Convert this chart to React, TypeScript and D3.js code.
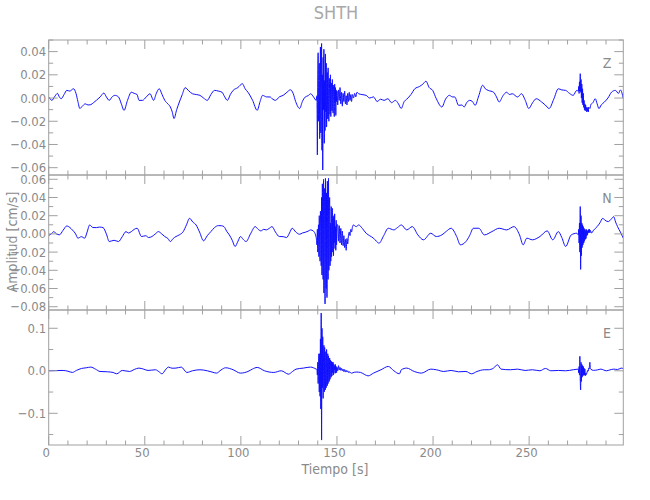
import React from 'react';
import * as d3 from 'd3';

const TITLE = 'SHTH';
const X_LABEL = 'Tiempo [s]';
const Y_LABEL = 'Amplitud [cm/s]';
const X_DOMAIN: [number, number] = [0, 299];
const X_MAJOR_TICKS = [0, 50, 100, 150, 200, 250];
const X_MINOR_STEP = 10;
const COMPONENTS = ['Z', 'N', 'E'];

const Z_DOMAIN: [number, number] = [-0.0663, 0.05];
const N_DOMAIN: [number, number] = [-0.0836, 0.0647];
const E_DOMAIN: [number, number] = [-0.1746, 0.143];
const Z_TICKS = [0.04, 0.02, 0, -0.02, -0.04, -0.06];
const N_TICKS = [0.06, 0.04, 0.02, 0, -0.02, -0.04, -0.06, -0.08];
const E_TICKS = [0.1, 0, -0.1];
const Z_MINOR = 0.01;
const N_MINOR = 0.01;
const E_MINOR = 0.05;
const Z_DECIMALS = 2;
const N_DECIMALS = 2;
const E_DECIMALS = 1;

const BURST_DT = 0.2;
const BURST1_START = 139.6;
const BURST2_START = 275.6;

const Z_BASE: [number, number][] = [
  [0, 0.001], [1.7, -0.002], [3, 0.001], [4.6, 0.004], [5.5, 0.001], [6.5, -0.0006], [8, 0.003], [9.4, 0.0066], [11, 0.006], [12.9, 0.008], [14.2, 0.004], [15.2, -0.003], [16.2, -0.009], [17.5, -0.007], [19, -0.005], [20.5, -0.006], [21.9, -0.0057], [23.3, -0.004], [24.8, -0.002], [26.8, 0.001], [28.7, 0.0043], [30, 0.001], [31.5, -0.002], [33, 0.001], [34.4, 0.0023], [36.3, 0.001], [37.8, -0.005], [39.2, -0.0106], [41, -0.002], [43, 0.005], [44.5, 0.004], [46, 0.003], [47, -0.002], [48.8, -0.002], [50.8, 0.001], [52.7, 0.0037], [54.6, -0.002], [56, 0.004], [57.5, 0.008], [59, 0.003], [60.4, -0.002], [62, -0.005], [63.3, -0.0077], [64.3, -0.012], [65.2, -0.0177], [66.6, -0.01], [68, -0.0034], [69.5, 0.003], [71, 0.0089], [73, 0.006], [74.8, 0.0037], [76.8, 0.003], [78.7, 0.0023], [80.6, 0], [82.5, -0.002], [84.4, 0.003], [86.3, 0.0066], [88.3, 0.006], [90.2, 0.005], [91.6, 0.001], [93, -0.002], [94.5, 0.003], [96, 0.0066], [98.4, 0.009], [100.8, 0.0123], [102.2, 0.008], [103.7, 0.005], [106.1, -0.002], [108.5, -0.0106], [110, -0.003], [111.3, 0.0023], [113.3, 0.001], [115.2, 0.0009], [116.6, -0.001], [118, -0.002], [120, 0.001], [122, 0.0023], [124, 0.005], [125.8, 0.0071], [127.2, 0.004], [128.5, -0.003], [130.6, -0.009], [132, -0.003], [133.5, 0.0009], [135, 0.002], [136.3, 0.0037], [137.8, 0.001], [139.2, -0.002],
  [150.4, -0.006], [150.8, 0.007], [151.2, -0.002], [151.6, 0.009], [152, -0.005], [152.4, 0.005], [152.8, -0.007], [153.2, 0.004], [153.6, -0.003], [154, 0.006], [154.4, -0.005], [154.8, 0.002], [155.2, -0.006], [155.6, 0.004], [156, -0.003], [156.4, 0.005], [156.8, -0.002], [157.2, 0.003], [157.6, -0.003], [158, 0.003], [158.6, 0], [159.2, 0.004], [159.8, 0.001], [160.4, 0.005],
  [161.3, 0.0037], [163, 0.003], [165.2, 0.0023], [167, 0], [169, 0.001], [170.9, -0.003], [172.7, -0.001], [174.5, -0.002], [176.5, -0.0006], [178.4, -0.004], [180.4, -0.002], [182, -0.005], [183.4, -0.009], [185, -0.003], [186.3, -0.001], [188.5, 0.003], [190.5, 0.008], [193, 0.01], [194.7, 0.012], [196.3, 0.0145], [198, 0.009], [199.8, 0.0066], [201.7, -0.0006], [204.6, -0.0077], [206.5, -0.001], [208.5, 0.0023], [210, 0.001], [211.3, 0.0009], [213.3, -0.0063], [215, -0.006], [216.2, -0.0077], [217.5, -0.004], [219, -0.002], [220.5, -0.003], [221.9, -0.0063], [223.8, 0.002], [225.8, 0.011], [227.2, 0.008], [228.7, 0.0066], [231.5, 0.005], [233, 0.001], [234.4, -0.0034], [236.4, 0.002], [238.3, 0.005], [239.8, 0.003], [241.2, 0.0037], [244, 0.0009], [246, 0.0037], [248, -0.002], [249.8, -0.009], [251.8, -0.004], [253.7, -0.0006], [256.5, -0.0034], [258.4, -0.006], [260.4, -0.009], [262.8, -0.001], [265.2, 0.008], [267, 0.007], [269, 0.0066], [271, 0.004], [272.9, 0.0023], [274.8, 0.0066],
  [281.6, -0.009], [282.1, -0.0057], [283.2, -0.004], [284.4, -0.0006], [285.4, -0.005], [286.3, -0.0091], [287.5, -0.006], [289.2, -0.0034], [291, 0], [292.9, 0.0051], [294.9, 0.0066], [296.5, 0.004], [297.5, 0.007], [299, -0.0006],
];
const Z_BURST1 = [0.002, -0.049, 0.012, 0.039, -0.02, 0.008, 0.03, -0.035, -0.01, 0.044, -0.03, 0.005, 0.047, -0.045, 0.02, -0.062, 0.035, -0.01, 0.042, -0.039, 0.015, -0.028, 0.038, -0.012, 0.03, -0.025, 0.008, 0.022, -0.018, 0.026, -0.009, -0.02, 0.017, 0.004, -0.014, 0.02, -0.016, 0.006, 0.013, -0.011, 0.016, -0.006, -0.013, 0.011, 0.003, -0.016, 0.012, -0.004, 0.009, -0.015, 0.007, -0.003, 0.006];
const Z_BURST2 = [0.006, 0.01, 0.004, 0.014, 0.006, 0.021, 0.005, 0.016, 0, 0.012, -0.004, 0.008, -0.006, 0.004, -0.008, -0.002, -0.01, -0.005, -0.011, -0.006, -0.01, -0.008, -0.012, -0.009, -0.011, -0.008, -0.012, -0.008];

const N_BASE: [number, number][] = [
  [0, -0.0018], [1.3, 0], [2.7, 0.0025], [4, 0], [5.6, -0.001], [7.5, 0.004], [9.4, 0.0087], [11, 0.007], [12.3, 0.0044], [14, 0], [15.2, -0.0047], [17, -0.003], [18.7, -0.0047], [20, 0.002], [21.3, 0.0098], [23, 0.007], [24.8, 0.0069], [26.5, 0.0075], [28.3, 0.0069], [30, 0], [31.5, -0.0084], [34, -0.007], [36.3, -0.0084], [38.3, -0.003], [40.2, 0.0025], [41.5, 0.001], [43, 0.0025], [44.5, 0.005], [46, 0.0062], [48.3, -0.0029], [50.5, -0.002], [52, -0.004], [53.7, -0.0029], [55.5, 0], [57.1, 0.0025], [58.8, 0], [60.4, -0.0029], [62, -0.005], [63.3, -0.0084], [64.8, -0.005], [66.2, -0.0029], [68, -0.001], [70, 0.0025], [71.7, 0.01], [73.3, 0.0171], [75, 0.013], [76.7, 0.0098], [78.5, 0.002], [80.6, -0.0076], [82.5, -0.002], [84.4, 0.0025], [86.3, 0.007], [88.3, 0.0091], [89.8, 0.009], [91.2, 0.008], [92.6, 0.003], [94, -0.0011], [95.5, -0.007], [97, -0.0138], [98.5, -0.008], [99.8, -0.0029], [101.2, -0.006], [102.7, -0.0084], [105, 0], [107.5, 0.008], [109, 0.005], [110.4, 0.0033], [111.9, 0.005], [113.3, 0.0044], [114.7, 0.006], [116.2, 0.008], [118, 0.002], [120, -0.0029], [122, -0.003], [123.8, -0.004], [125.3, 0.001], [126.7, 0.0062], [128.6, 0.002], [130.6, -0.0004], [132, 0.001], [133.5, 0.0018], [135, 0.003], [136.3, 0.0044], [137.8, 0.003], [139.2, -0.004],
  [150.4, 0.01], [150.8, -0.008], [151.2, 0.009], [151.6, -0.01], [152, 0.006], [152.4, -0.012], [152.8, 0.003], [153.2, -0.013], [153.6, -0.002], [154, -0.015], [154.4, -0.006], [154.8, -0.018], [155.2, -0.005], [155.6, -0.011], [156, -0.001], [156.4, 0.002], [156.8, -0.002], [157.2, 0.005], [157.6, 0.002], [158, 0.007],
  [158.5, 0.0098], [160, 0.008], [161.3, 0.0098], [163.2, 0.006], [165.2, 0.0007], [167, -0.002], [169, -0.0047], [170.5, -0.008], [171.9, -0.0102], [174.3, -0.002], [176.7, 0.0062], [179.6, 0.0044], [181.5, 0.007], [183.5, 0.0098], [186.3, 0.0044], [189.2, 0.008], [192.1, -0.0011], [195, -0.0065], [198.8, 0.0007], [201.7, -0.0029], [204.6, -0.0011], [207, 0.003], [209.4, 0.0062], [212.3, -0.0029], [214.2, -0.012], [217.1, -0.0084], [219, -0.002], [221, 0.0062], [223.8, 0.0062], [226.7, -0.0011], [230.6, 0.0025], [234.4, 0.0062], [238.3, 0.0044], [242.1, 0.008], [245, -0.0011], [246.9, -0.012], [248.8, -0.0047], [251.7, -0.0065], [255.6, -0.0029], [259.4, 0.0033], [262.3, -0.0065], [265.2, 0.0025], [267, -0.004], [269, -0.0138], [271.9, -0.0011], [274.8, 0.0007],
  [282.5, 0.001], [283.5, 0.004], [285.4, 0.008], [286.8, 0.012], [288.3, 0.0171], [289.5, 0.015], [291.2, 0.0135], [292.6, 0.016], [294, 0.0189], [295, 0.013], [296, 0.008], [297.5, 0.002], [299, -0.0047],
];
const N_BURST1 = [-0.012, 0.005, -0.02, -0.004, 0.01, -0.025, 0.02, -0.008, -0.03, 0.025, 0.006, -0.035, 0.04, -0.045, 0.055, -0.02, -0.05, 0.06, -0.065, 0.012, 0.05, -0.077, 0.061, -0.03, -0.06, 0.045, -0.07, 0.058, -0.02, -0.05, 0.061, -0.04, 0.02, 0.04, -0.035, 0.012, -0.03, 0.03, -0.025, 0.005, 0.028, -0.02, 0.018, -0.024, 0.02, -0.01, 0.022, -0.016, 0.008, -0.018, 0.015, -0.012, 0.01];
const N_BURST2 = [-0.001, 0.005, -0.01, 0.012, -0.02, 0.03, -0.039, 0.02, -0.024, 0.012, -0.015, 0.01, -0.012, 0.008, -0.01, 0.006, -0.008, 0.005, -0.006, 0.004, -0.005, 0.005, -0.002, 0.003, -0.001, 0.004, 0.001, 0.005, 0.002, 0.005, 0.001, 0.004];

const E_BASE: [number, number][] = [
  [0, 0], [3.5, 0.0005], [7.5, 0.0008], [10, -0.001], [12.3, -0.0039], [14.5, 0.001], [17.1, 0.0055], [19.5, 0.007], [21.9, 0.0087], [24.3, 0.004], [26.7, -0.0016], [30.6, -0.0024], [33.5, -0.0039], [35.4, -0.0071], [38.3, 0.0008], [42.1, -0.0016], [44.5, 0.003], [46.9, 0.0063], [49.3, 0.004], [51.7, 0.0008], [55.6, 0.0024], [57.3, -0.002], [59, -0.0071], [60.7, 0.002], [62.3, 0.0087], [64.2, 0.006], [66.2, 0.0063], [69, 0.0087], [71.9, -0.0039], [74.8, 0], [78.7, 0.0024], [82.5, 0], [85, -0.003], [87.3, -0.0055], [89.7, 0.002], [92.1, 0.0071], [96, 0.0024], [99.8, -0.0055], [103.7, -0.0016], [106, 0.004], [108.5, 0.0079], [112.3, 0], [117.1, -0.0039], [121, 0], [124.8, -0.0079], [126.8, -0.002], [128.7, 0.0039], [132.5, 0.0063], [136.3, 0.0087], [139.2, 0.0039],
  [150.4, 0], [150.8, 0.012], [151.2, 0.002], [151.6, 0.008], [152, 0.001], [152.4, 0.006], [152.8, 0], [153.2, 0.004], [153.6, -0.002], [154, 0.003], [154.4, -0.003], [154.8, 0.001], [155.2, -0.003], [155.6, 0], [156, -0.004], [156.4, -0.002], [156.8, -0.005], [157.2, -0.004], [157.6, -0.006], [158, -0.005],
  [160, -0.003], [162.3, -0.0039], [164.5, -0.009], [166.2, -0.012], [169, -0.0055], [172.9, 0.0024], [176.7, 0.0102], [179.6, 0], [182.5, -0.0071], [183.5, 0.0024], [186.3, 0.0063], [190.2, -0.0016], [194, -0.0055], [198.8, 0.0039], [201.7, 0.0024], [205.6, -0.0016], [209.4, 0.0008], [213.3, -0.0024], [217.1, -0.0016], [220, -0.0071], [222.9, -0.0016], [226.7, 0.0024], [228.7, 0.0024], [231.5, 0.0063], [233.5, 0.0142], [235.4, 0.0039], [240.2, 0.0024], [244, 0.0039], [247.9, 0.0008], [251.7, 0.0024], [255.6, 0], [258.5, 0.0055], [261.3, 0], [265.2, 0.0008], [269, 0], [272.9, 0.0024], [275.4, 0.0039],
  [283.5, 0.001], [285.5, 0.002], [287.3, 0.0039], [290.2, 0], [292, 0.002], [294, 0.0039], [296, 0.003], [297.9, 0.0063], [299, 0.005],
];
const E_BURST1 = [0.003, -0.01, 0.02, -0.03, 0.01, 0.04, -0.05, 0.04, -0.06, 0.075, -0.09, 0.136, -0.163, 0.1, -0.04, 0.08, -0.065, 0.02, 0.06, -0.05, 0.055, -0.02, -0.045, 0.045, -0.04, 0.05, 0.005, -0.035, 0.04, -0.03, 0.035, -0.01, -0.025, 0.03, -0.02, 0.025, 0.004, -0.015, 0.022, -0.012, 0.02, -0.004, 0.02, -0.01, 0.015, 0.002, 0.012, -0.006, 0.015, -0.005, 0.01, -0.004, 0.008];
const E_BURST2 = [0.004, -0.005, 0.01, -0.01, 0.034, -0.02, -0.045, 0.02, -0.025, 0.015, -0.015, 0.012, -0.012, 0.01, -0.01, 0.006, -0.01, 0.004, -0.012, -0.006, -0.01, -0.005, -0.006, -0.002, -0.003, 0.002, 0, 0.006, 0.004, 0.012, 0.02, 0.008, 0.004];

function buildTrace(base: [number, number][], b1: number[], b2: number[]) {
  const pts: [number, number][] = base.slice();
  b1.forEach((v, i) => pts.push([BURST1_START + i * BURST_DT, v]));
  b2.forEach((v, i) => pts.push([BURST2_START + i * BURST_DT, v]));
  pts.sort((a, b) => a[0] - b[0]);
  return pts;
}

const AXIS = '#a0a0a0';
const TEXT = '#8a8a8a';
const TRACE = '#1010ff';
const FONT = "'Liberation Sans Narrow', 'DejaVu Sans Condensed', 'Liberation Sans', sans-serif";

export default function App() {
  const W = 650;
  const H = 500;
  const left = 48.7;
  const right = 623.3;
  const tops = [40, 175, 310];
  const ph = 135;
  const x = d3.scaleLinear().domain(X_DOMAIN).range([left, right]);

  const panels = [
    { name: COMPONENTS[0], domain: Z_DOMAIN, ticks: Z_TICKS, minor: Z_MINOR, dec: Z_DECIMALS, data: buildTrace(Z_BASE, Z_BURST1, Z_BURST2) },
    { name: COMPONENTS[1], domain: N_DOMAIN, ticks: N_TICKS, minor: N_MINOR, dec: N_DECIMALS, data: buildTrace(N_BASE, N_BURST1, N_BURST2) },
    { name: COMPONENTS[2], domain: E_DOMAIN, ticks: E_TICKS, minor: E_MINOR, dec: E_DECIMALS, data: buildTrace(E_BASE, E_BURST1, E_BURST2) },
  ];

  const xMinor = d3.range(X_DOMAIN[0], X_DOMAIN[1], X_MINOR_STEP).filter((t) => X_MAJOR_TICKS.indexOf(t) < 0);

  return (
    <svg width={W} height={H} style={{ position: 'absolute', left: 0, top: 0, background: '#fff' }} fontFamily={FONT}>
      <rect x={0} y={0} width={W} height={H} fill="#fff" />
      <text x={336} y={12} textAnchor="middle" dominantBaseline="central" fontSize={18} fill="#a8a8a8">{TITLE}</text>
      {panels.map((p, i) => {
        const top = tops[i];
        const bottom = top + ph;
        const y = d3.scaleLinear().domain(p.domain).range([bottom, top]);
        const line = d3.line<[number, number]>().x((d) => x(d[0])).y((d) => y(d[1])).curve(d3.curveMonotoneX);
        const lo = Math.ceil(p.domain[0] / p.minor - 1e-6);
        const hi = Math.floor(p.domain[1] / p.minor + 1e-6);
        const minorTicks = d3.range(lo, hi + 1).map((k) => k * p.minor).filter((v) => !p.ticks.some((t) => Math.abs(t - v) < 1e-9));
        const fmt = (v: number) => v.toFixed(p.dec).replace('-', '\u2212');
        const clipId = `clip-${p.name}`;
        return (
          <g key={p.name}>
            <defs>
              <clipPath id={clipId}>
                <rect x={left} y={top} width={right - left} height={ph} />
              </clipPath>
            </defs>
            <path d={line(p.data) || ''} fill="none" stroke={TRACE} strokeWidth={1} strokeLinejoin="round" clipPath={`url(#${clipId})`} />
            <rect x={left} y={top} width={right - left} height={ph} fill="none" stroke={AXIS} strokeWidth={1} />
            {X_MAJOR_TICKS.map((t) => (
              <g key={`xm${t}`}>
                <line x1={x(t)} x2={x(t)} y1={bottom} y2={bottom - 9} stroke={AXIS} />
                <line x1={x(t)} x2={x(t)} y1={top} y2={top + 9} stroke={AXIS} />
              </g>
            ))}
            {xMinor.map((t) => (
              <g key={`xn${t}`}>
                <line x1={x(t)} x2={x(t)} y1={bottom} y2={bottom - 4.5} stroke={AXIS} />
                <line x1={x(t)} x2={x(t)} y1={top} y2={top + 4.5} stroke={AXIS} />
              </g>
            ))}
            {p.ticks.map((t) => (
              <g key={`ym${t}`}>
                <line x1={left} x2={left + 9} y1={y(t)} y2={y(t)} stroke={AXIS} />
                <line x1={right} x2={right - 9} y1={y(t)} y2={y(t)} stroke={AXIS} />
                <text x={left - 2.5} y={y(t)} textAnchor="end" dominantBaseline="central" fontSize={13} fill={TEXT}>{fmt(t)}</text>
              </g>
            ))}
            {minorTicks.map((t) => (
              <g key={`yn${t}`}>
                <line x1={left} x2={left + 4.5} y1={y(t)} y2={y(t)} stroke={AXIS} />
                <line x1={right} x2={right - 4.5} y1={y(t)} y2={y(t)} stroke={AXIS} />
              </g>
            ))}
            <text x={607} y={top + 23} textAnchor="middle" dominantBaseline="central" fontSize={14} fill={TEXT}>{p.name}</text>
          </g>
        );
      })}
      {X_MAJOR_TICKS.map((t) => (
        <text key={`xl${t}`} x={x(t) - 2.5} y={452} textAnchor="middle" dominantBaseline="central" fontSize={13} fill={TEXT}>{String(t)}</text>
      ))}
      <text x={335} y={469} textAnchor="middle" dominantBaseline="central" fontSize={14} fill={TEXT}>{X_LABEL}</text>
      <text transform={`translate(12, 242) rotate(-90)`} textAnchor="middle" dominantBaseline="central" fontSize={14} fill={TEXT}>{Y_LABEL}</text>
    </svg>
  );
}
